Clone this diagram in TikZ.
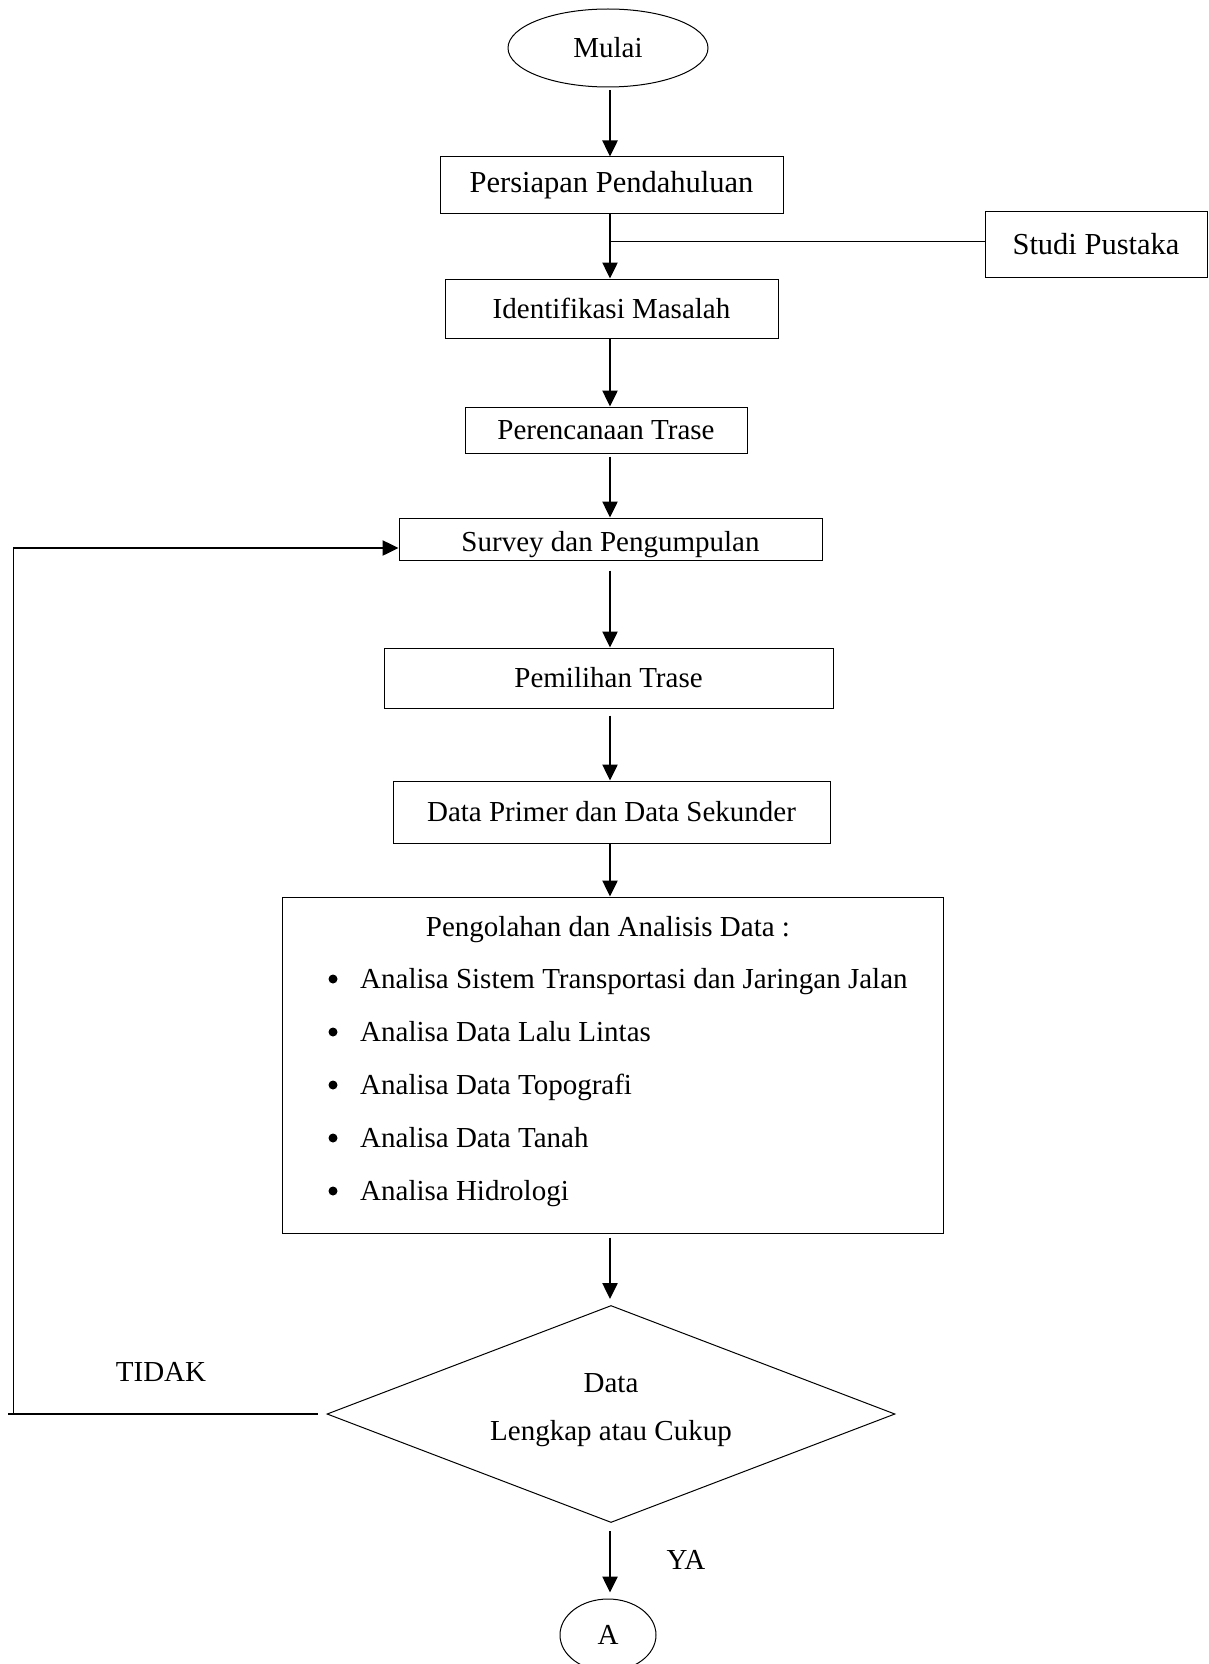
\documentclass[tikz,border=0pt]{standalone}
\usepackage{fontspec}
\setmainfont{Liberation Serif}
\usetikzlibrary{shapes.geometric,arrows.meta}
\begin{document}
\begin{tikzpicture}[x=1pt,y=-1pt,
  every node/.style={font=\fontsize{29}{35}\selectfont},
  box/.style={draw,line width=1pt,inner sep=0pt},
  oval/.style={draw,ellipse,line width=1pt,inner sep=0pt},
  arr/.style={line width=2.5pt,-{Triangle[length=16pt,width=15pt]}},
  thinline/.style={line width=1pt},
  txt/.style={inner sep=0pt,anchor=base west},
  bulletdot/.style={circle,fill,inner sep=0pt,minimum size=9pt}
]
\useasboundingbox (0,0) rectangle (1209,1664);

\node[oval,minimum width=200pt,minimum height=78pt] (mulai) at (608,48) {Mulai};
\node[box,minimum width=343pt,minimum height=56pt,font=\fontsize{30.5}{36}\selectfont] (persiapan) at (611.5,185) {Persiapan Pendahuluan};
\node[box,minimum width=222pt,minimum height=66pt,font=\fontsize{30.5}{36}\selectfont] (studi) at (1096,244) {Studi Pustaka};
\node[box,minimum width=333pt,minimum height=59pt] (identifikasi) at (611.5,308.5) {Identifikasi Masalah};
\node[box,minimum width=282pt,minimum height=46pt] (perencanaan) at (606,430) {Perencanaan Trase};
\node[box,minimum width=423pt,minimum height=42pt] (survey) at (610.5,539) {};
\node[inner sep=0pt] (surveytxt) at (610.5,545) {Survey dan Pengumpulan};
\node[box,minimum width=449pt,minimum height=60pt] (pemilihan) at (608.5,678) {Pemilihan Trase};
\node[box,minimum width=437pt,minimum height=62pt] (primer) at (611.5,812) {Data Primer dan Data Sekunder};
\node[box,minimum width=661pt,minimum height=336pt] (olah) at (612.5,1065) {};
\node[inner sep=0pt,anchor=base] (olahjudul) at (608,936) {Pengolahan dan Analisis Data :};
\foreach \i/\y/\t in {1/988/Analisa Sistem Transportasi dan Jaringan Jalan,
                      2/1041/Analisa Data Lalu Lintas,
                      3/1094/Analisa Data Topografi,
                      4/1147/Analisa Data Tanah,
                      5/1200/Analisa Hidrologi}{
  \node[bulletdot] (bul\i) at (333,\y-9) {};
  \node[txt] (item\i) at (360,\y) {\t};
}
\node[draw,diamond,line width=1pt,inner sep=0pt,minimum width=568pt,minimum height=217pt] (cek) at (611,1414) {};
\node[inner sep=0pt] (cek1) at (611,1383) {Data};
\node[inner sep=0pt] (cek2) at (611,1434) {Lengkap atau Cukup};
\node[inner sep=0pt] (tidak) at (161,1372) {TIDAK};
\node[inner sep=0pt] (ya) at (686,1560) {YA};
\node[oval,minimum width=96pt,minimum height=72pt] (A) at (608,1635) {A};

% main flow
\draw[arr,shorten <=3pt] (mulai.south -| 610,0) -- (persiapan.north -| 610,0);
\draw[arr] (persiapan.south -| 610,0) -- (identifikasi.north -| 610,0);
\draw[arr] (identifikasi.south -| 610,0) -- (perencanaan.north -| 610,0);
\draw[arr,shorten <=3pt] (perencanaan.south -| 610,0) -- (survey.north -| 610,0);
\draw[arr,shorten <=10pt] (survey.south -| 610,0) -- (pemilihan.north -| 610,0);
\draw[arr,shorten <=7pt] (pemilihan.south -| 610,0) -- (primer.north -| 610,0);
\draw[arr] (primer.south -| 610,0) -- (olah.north -| 610,0);
\draw[arr,shorten <=4pt,shorten >=6pt] (olah.south -| 610,0) -- (cek.north -| 610,0);
\draw[arr,shorten <=8pt,shorten >=6pt] (cek.south -| 610,0) -- (A.north -| 610,0);

% studi pustaka connector
\coordinate (sj) at (610,241);
\draw[thinline] (studi.west |- sj) -- (sj);

% feedback
\coordinate (fbb) at (8,1414);
\coordinate (fbc) at (13,1414);
\coordinate (fbt) at (13,548);
\draw[line width=1.5pt] ([xshift=-9pt]cek.west) -- (fbb);
\draw[thinline] (fbc) -- (fbt);
\draw[arr] (fbt) -- (fbt -| survey.west);
\end{tikzpicture}
\end{document}
